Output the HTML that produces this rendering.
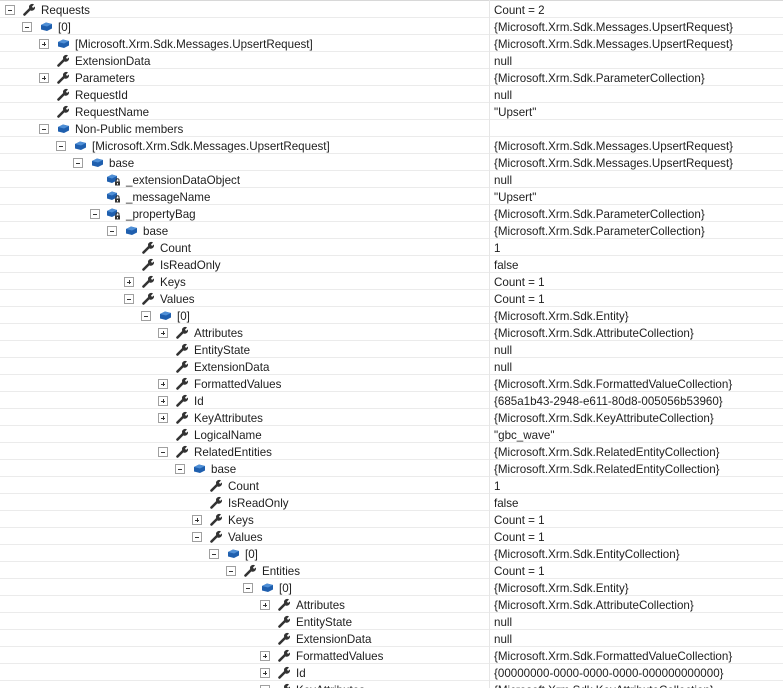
<!DOCTYPE html>
<html><head><meta charset="utf-8"><style>
html,body{margin:0;padding:0;background:#fff;width:783px;height:688px;overflow:hidden}
#g{position:relative;width:783px;height:688px;font-family:"Liberation Sans",sans-serif;font-size:11.6px;color:#1e1e1e}
.r{position:absolute;left:0;width:783px;height:16px;border-bottom:1px solid #ebebeb}
.r span{position:absolute;top:2px;white-space:nowrap;line-height:15px}
.v{left:494px}
.m,.p{position:absolute;top:4px;width:8px;height:8px;border:1px solid #a0a0a0;background:#fff}
.m:after,.p:after{content:"";position:absolute;left:2px;top:3.5px;width:4px;height:1px;background:#333}
.p:before{content:"";position:absolute;left:3.5px;top:2px;width:1px;height:4px;background:#333}
svg.i{position:absolute;top:2px;width:13px;height:13px}
#vl{position:absolute;left:489px;top:0;width:1px;height:688px;background:#e6e6e6}
#tl{position:absolute;left:0;top:0;width:783px;height:1px;background:#d8d8d8}
</style></head><body><div id="g">
<svg width="0" height="0" style="position:absolute"><defs>
<symbol id="w" viewBox="0 0 13 13"><path d="M1.5 11.5 L7 6" stroke="#333" stroke-width="2.6" stroke-linecap="round"/><path d="M6 4.5 A3.2 3.2 0 0 1 11 1.5 L9 3.5 L10 5 L11.8 3.5 A3.2 3.2 0 0 1 7.5 7.5 Z" fill="#333"/></symbol>
<symbol id="c" viewBox="0 0 13 13"><path d="M1 5 L6 2.5 L12 4 L12 8.5 L7 11 L1 9.5 Z" fill="#1f5fae"/><path d="M1 5 L6 2.5 L12 4 L7 6.5 Z" fill="#4f8fd6"/></symbol>
<symbol id="k" viewBox="0 0 13 13"><path d="M0 4 L5 1.5 L10 3 L10 7.5 L5 10 L0 8.5 Z" fill="#1f5fae"/><path d="M0 4 L5 1.5 L10 3 L5 5.5 Z" fill="#4f8fd6"/><rect x="8" y="8.5" width="5" height="4" fill="#333"/><path d="M9 8.8 V7.3 A1.5 1.5 0 0 1 12 7.3 V8.8" stroke="#333" fill="none"/><rect x="10" y="10" width="1" height="1.5" fill="#fff"/></symbol>
</defs></svg>
<div id="tl"></div>
<div class="r" style="top:1px"><i class="m" style="left:5px"></i><svg class="i" style="left:23px"><use href="#w"/></svg><span style="left:41px">Requests</span><span class="v">Count = 2</span></div>
<div class="r" style="top:18px"><i class="m" style="left:22px"></i><svg class="i" style="left:40px"><use href="#c"/></svg><span style="left:58px">[0]</span><span class="v">{Microsoft.Xrm.Sdk.Messages.UpsertRequest}</span></div>
<div class="r" style="top:35px"><i class="p" style="left:39px"></i><svg class="i" style="left:57px"><use href="#c"/></svg><span style="left:75px">[Microsoft.Xrm.Sdk.Messages.UpsertRequest]</span><span class="v">{Microsoft.Xrm.Sdk.Messages.UpsertRequest}</span></div>
<div class="r" style="top:52px"><svg class="i" style="left:57px"><use href="#w"/></svg><span style="left:75px">ExtensionData</span><span class="v">null</span></div>
<div class="r" style="top:69px"><i class="p" style="left:39px"></i><svg class="i" style="left:57px"><use href="#w"/></svg><span style="left:75px">Parameters</span><span class="v">{Microsoft.Xrm.Sdk.ParameterCollection}</span></div>
<div class="r" style="top:86px"><svg class="i" style="left:57px"><use href="#w"/></svg><span style="left:75px">RequestId</span><span class="v">null</span></div>
<div class="r" style="top:103px"><svg class="i" style="left:57px"><use href="#w"/></svg><span style="left:75px">RequestName</span><span class="v">"Upsert"</span></div>
<div class="r" style="top:120px"><i class="m" style="left:39px"></i><svg class="i" style="left:57px"><use href="#c"/></svg><span style="left:75px">Non-Public members</span></div>
<div class="r" style="top:137px"><i class="m" style="left:56px"></i><svg class="i" style="left:74px"><use href="#c"/></svg><span style="left:92px">[Microsoft.Xrm.Sdk.Messages.UpsertRequest]</span><span class="v">{Microsoft.Xrm.Sdk.Messages.UpsertRequest}</span></div>
<div class="r" style="top:154px"><i class="m" style="left:73px"></i><svg class="i" style="left:91px"><use href="#c"/></svg><span style="left:109px">base</span><span class="v">{Microsoft.Xrm.Sdk.Messages.UpsertRequest}</span></div>
<div class="r" style="top:171px"><svg class="i" style="left:107px"><use href="#k"/></svg><span style="left:126px">_extensionDataObject</span><span class="v">null</span></div>
<div class="r" style="top:188px"><svg class="i" style="left:107px"><use href="#k"/></svg><span style="left:126px">_messageName</span><span class="v">"Upsert"</span></div>
<div class="r" style="top:205px"><i class="m" style="left:90px"></i><svg class="i" style="left:107px"><use href="#k"/></svg><span style="left:126px">_propertyBag</span><span class="v">{Microsoft.Xrm.Sdk.ParameterCollection}</span></div>
<div class="r" style="top:222px"><i class="m" style="left:107px"></i><svg class="i" style="left:125px"><use href="#c"/></svg><span style="left:143px">base</span><span class="v">{Microsoft.Xrm.Sdk.ParameterCollection}</span></div>
<div class="r" style="top:239px"><svg class="i" style="left:142px"><use href="#w"/></svg><span style="left:160px">Count</span><span class="v">1</span></div>
<div class="r" style="top:256px"><svg class="i" style="left:142px"><use href="#w"/></svg><span style="left:160px">IsReadOnly</span><span class="v">false</span></div>
<div class="r" style="top:273px"><i class="p" style="left:124px"></i><svg class="i" style="left:142px"><use href="#w"/></svg><span style="left:160px">Keys</span><span class="v">Count = 1</span></div>
<div class="r" style="top:290px"><i class="m" style="left:124px"></i><svg class="i" style="left:142px"><use href="#w"/></svg><span style="left:160px">Values</span><span class="v">Count = 1</span></div>
<div class="r" style="top:307px"><i class="m" style="left:141px"></i><svg class="i" style="left:159px"><use href="#c"/></svg><span style="left:177px">[0]</span><span class="v">{Microsoft.Xrm.Sdk.Entity}</span></div>
<div class="r" style="top:324px"><i class="p" style="left:158px"></i><svg class="i" style="left:176px"><use href="#w"/></svg><span style="left:194px">Attributes</span><span class="v">{Microsoft.Xrm.Sdk.AttributeCollection}</span></div>
<div class="r" style="top:341px"><svg class="i" style="left:176px"><use href="#w"/></svg><span style="left:194px">EntityState</span><span class="v">null</span></div>
<div class="r" style="top:358px"><svg class="i" style="left:176px"><use href="#w"/></svg><span style="left:194px">ExtensionData</span><span class="v">null</span></div>
<div class="r" style="top:375px"><i class="p" style="left:158px"></i><svg class="i" style="left:176px"><use href="#w"/></svg><span style="left:194px">FormattedValues</span><span class="v">{Microsoft.Xrm.Sdk.FormattedValueCollection}</span></div>
<div class="r" style="top:392px"><i class="p" style="left:158px"></i><svg class="i" style="left:176px"><use href="#w"/></svg><span style="left:194px">Id</span><span class="v">{685a1b43-2948-e611-80d8-005056b53960}</span></div>
<div class="r" style="top:409px"><i class="p" style="left:158px"></i><svg class="i" style="left:176px"><use href="#w"/></svg><span style="left:194px">KeyAttributes</span><span class="v">{Microsoft.Xrm.Sdk.KeyAttributeCollection}</span></div>
<div class="r" style="top:426px"><svg class="i" style="left:176px"><use href="#w"/></svg><span style="left:194px">LogicalName</span><span class="v">"gbc_wave"</span></div>
<div class="r" style="top:443px"><i class="m" style="left:158px"></i><svg class="i" style="left:176px"><use href="#w"/></svg><span style="left:194px">RelatedEntities</span><span class="v">{Microsoft.Xrm.Sdk.RelatedEntityCollection}</span></div>
<div class="r" style="top:460px"><i class="m" style="left:175px"></i><svg class="i" style="left:193px"><use href="#c"/></svg><span style="left:211px">base</span><span class="v">{Microsoft.Xrm.Sdk.RelatedEntityCollection}</span></div>
<div class="r" style="top:477px"><svg class="i" style="left:210px"><use href="#w"/></svg><span style="left:228px">Count</span><span class="v">1</span></div>
<div class="r" style="top:494px"><svg class="i" style="left:210px"><use href="#w"/></svg><span style="left:228px">IsReadOnly</span><span class="v">false</span></div>
<div class="r" style="top:511px"><i class="p" style="left:192px"></i><svg class="i" style="left:210px"><use href="#w"/></svg><span style="left:228px">Keys</span><span class="v">Count = 1</span></div>
<div class="r" style="top:528px"><i class="m" style="left:192px"></i><svg class="i" style="left:210px"><use href="#w"/></svg><span style="left:228px">Values</span><span class="v">Count = 1</span></div>
<div class="r" style="top:545px"><i class="m" style="left:209px"></i><svg class="i" style="left:227px"><use href="#c"/></svg><span style="left:245px">[0]</span><span class="v">{Microsoft.Xrm.Sdk.EntityCollection}</span></div>
<div class="r" style="top:562px"><i class="m" style="left:226px"></i><svg class="i" style="left:244px"><use href="#w"/></svg><span style="left:262px">Entities</span><span class="v">Count = 1</span></div>
<div class="r" style="top:579px"><i class="m" style="left:243px"></i><svg class="i" style="left:261px"><use href="#c"/></svg><span style="left:279px">[0]</span><span class="v">{Microsoft.Xrm.Sdk.Entity}</span></div>
<div class="r" style="top:596px"><i class="p" style="left:260px"></i><svg class="i" style="left:278px"><use href="#w"/></svg><span style="left:296px">Attributes</span><span class="v">{Microsoft.Xrm.Sdk.AttributeCollection}</span></div>
<div class="r" style="top:613px"><svg class="i" style="left:278px"><use href="#w"/></svg><span style="left:296px">EntityState</span><span class="v">null</span></div>
<div class="r" style="top:630px"><svg class="i" style="left:278px"><use href="#w"/></svg><span style="left:296px">ExtensionData</span><span class="v">null</span></div>
<div class="r" style="top:647px"><i class="p" style="left:260px"></i><svg class="i" style="left:278px"><use href="#w"/></svg><span style="left:296px">FormattedValues</span><span class="v">{Microsoft.Xrm.Sdk.FormattedValueCollection}</span></div>
<div class="r" style="top:664px"><i class="p" style="left:260px"></i><svg class="i" style="left:278px"><use href="#w"/></svg><span style="left:296px">Id</span><span class="v">{00000000-0000-0000-0000-000000000000}</span></div>
<div class="r" style="top:681px"><i class="p" style="left:260px"></i><svg class="i" style="left:278px"><use href="#w"/></svg><span style="left:296px">KeyAttributes</span><span class="v">{Microsoft.Xrm.Sdk.KeyAttributeCollection}</span></div>
<div id="vl"></div>
</div></body></html>
